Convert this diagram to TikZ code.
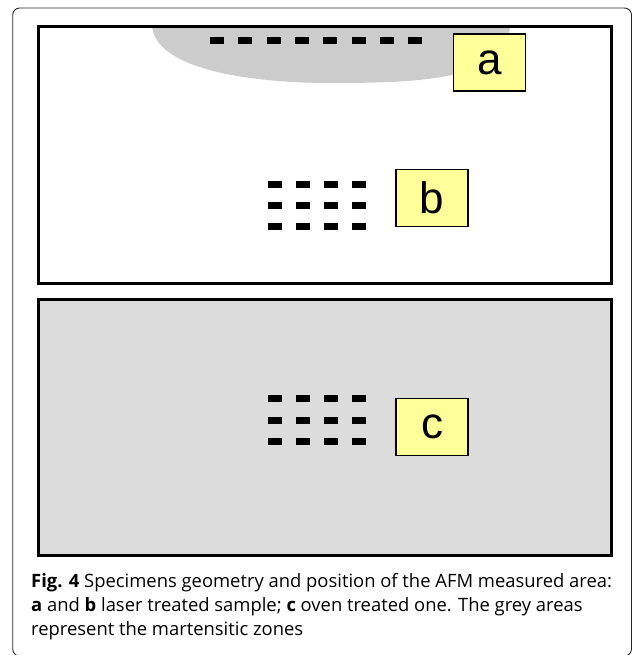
\documentclass[tikz,border=0pt]{standalone}
\usepackage{fontspec}
\setmainfont{Open Sans}
\newfontfamily\tagfont{Liberation Sans}
\usetikzlibrary{positioning,calc,backgrounds}

\definecolor{tagyellow}{HTML}{FFFF99}
\definecolor{zonegrey}{HTML}{CCCCCC}
\definecolor{ovengrey}{HTML}{DCDCDC}

\begin{document}
\begin{tikzpicture}[
    x=1pt, y=-1pt,
    frame/.style={draw=black!85, line width=0.9pt, rounded corners=7pt},
    specimen/.style={draw, line width=3pt},
    tag/.style={rectangle, draw, line width=1.6pt, fill=tagyellow, minimum width=72pt, minimum height=57pt, inner sep=0pt, font=\tagfont\fontsize{44}{44}\selectfont},
    spot/.style={rectangle, fill=black, minimum width=14pt, minimum height=7pt, inner sep=0pt},
    capline/.style={anchor=base west, inner sep=0pt, font=\fontsize{18.4}{24}\selectfont}
]
    \useasboundingbox (0,0) rectangle (632,655);

    % --- Outer frame ---
    \draw[frame] (12.7,8) rectangle (631.5,656);

    % --- Specimen areas ---
    % Oven treated specimen is grey all over
    \fill[ovengrey] (38.5,299) rectangle (611,555);

    % Martensitic zone of the laser treated specimen
    \fill[zonegrey] (152,27) .. controls (158,72) and (260,83) .. (330,83)
        .. controls (420,83) and (505,80) .. (510,27) -- cycle;

    \draw[specimen] (38.5,27) rectangle (611,283.5);
    \draw[specimen] (38.5,299) rectangle (611,555);

    % --- Measured spots ---
    % Line of spots a
    \foreach \i in {0,...,7}
        \node[spot] (sa\i) at (217+28.3*\i,40.5) {};

    % Grids of spots b and c
    \foreach \r/\yb/\yc in {0/184/398.7, 1/205/420, 2/226.5/441.3}
        \foreach \c in {0,...,3} {
            \node[spot] (sb\r\c) at (274.5+28.3*\c,\yb) {};
            \node[spot] (sc\r\c) at (274.5+28.3*\c,\yc) {};
        }

    % --- Tags ---
    \node[tag] (tag_a) at (489.5,62.5) {a};
    \node[tag] (tag_b) at (432,198) {b};
    \node[tag] (tag_c) at (432,427) {c};

    % --- Caption ---
    \node[capline] (cap1) at (31,587.3) {\textbf{Fig. 4} Specimens geometry and position of the AFM measured area:};
    \node[capline] (cap2) at (31,611.5) {\textbf{a} and \textbf{b} laser treated sample; \textbf{c} oven treated one. The grey areas};
    \node[capline] (cap3) at (31,635.8) {represent the martensitic zones};

\end{tikzpicture}
\end{document}
